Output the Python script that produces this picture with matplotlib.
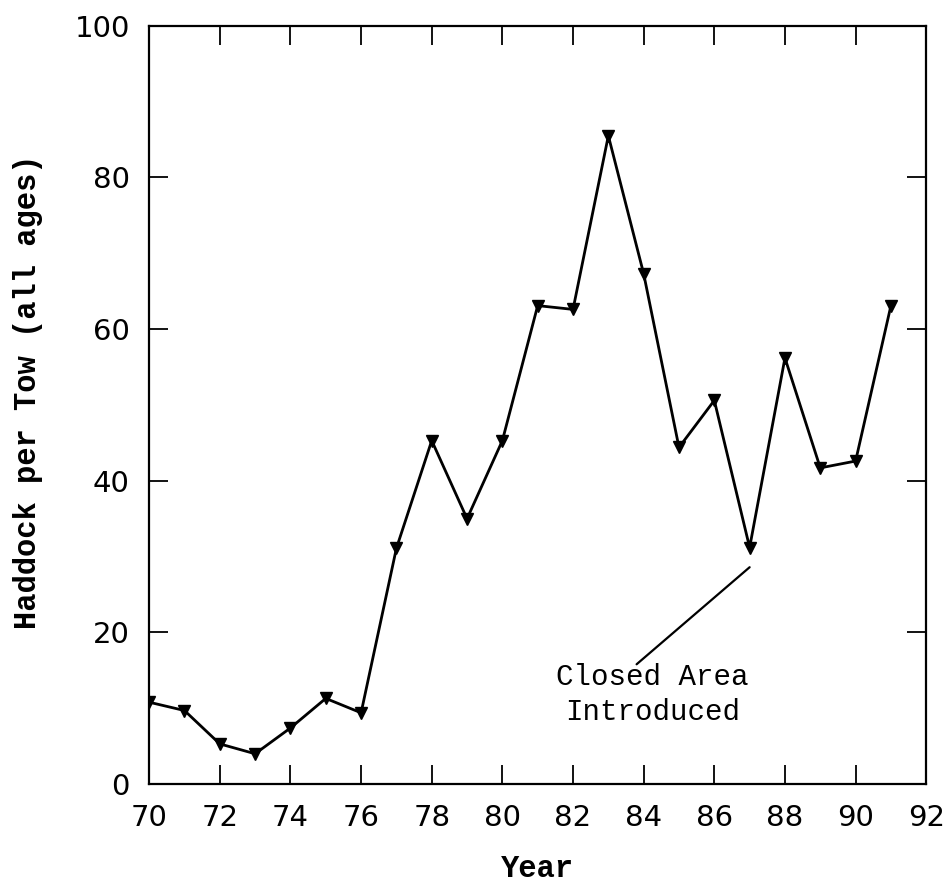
import numpy as np
import matplotlib.pyplot as plt

# haddock survey index, all ages
years = [70, 71, 72, 73, 74, 75, 76, 77, 78, 79, 80, 81, 82, 83, 84, 85, 86, 87, 88, 89, 90, 91]
per_tow = [10.8, 9.7, 5.3, 4.0, 7.4, 11.3, 9.4, 31.1, 45.3, 35.0, 45.3, 63.1, 62.6, 85.5, 67.3,
           44.4, 50.6, 31.2, 56.2, 41.7, 42.6, 63.1]
xticks = np.arange(70, 93, 2)
yticks = np.arange(0, 101, 20)

mono = ['Liberation Mono', 'DejaVu Sans Mono']

fig = plt.figure(figsize=(9.5, 8.9), dpi=100)
ax = fig.add_axes([0.157, 0.119, 0.818, 0.852])

ax.plot(years, per_tow, color='black', lw=2, marker='v', ms=8, mfc='black', mec='black')

ax.set_xlim(70, 92)
ax.set_ylim(0, 100)
ax.set_xticks(xticks)
ax.set_yticks(yticks)
ax.tick_params(direction='in', length=14, width=1.3, top=True, right=True,
               labelsize=21, pad=14)
for lab in ax.get_xticklabels() + ax.get_yticklabels():
    lab.set_family(['DejaVu Sans'])
for sp in ax.spines.values():
    sp.set_linewidth(1.6)

ax.set_xlabel('Year', family=mono, fontweight='bold', fontsize=22, labelpad=16)
ax.set_ylabel('Haddock per Tow (all ages)', family=mono, fontweight='bold', fontsize=22)
ax.yaxis.set_label_coords(-0.137, 0.517)

# note on the 1987 closure
ax.annotate('', xy=(87.0, 28.6), xytext=(83.8, 15.8),
            arrowprops=dict(arrowstyle='-', color='black', lw=1.6, shrinkA=0, shrinkB=0))
ax.text(84.25, 11.8, 'Closed Area\nIntroduced', family=mono, fontsize=21,
        ha='center', va='center', linespacing=1.3)

fig.savefig('out.png', dpi=100, facecolor='white')
